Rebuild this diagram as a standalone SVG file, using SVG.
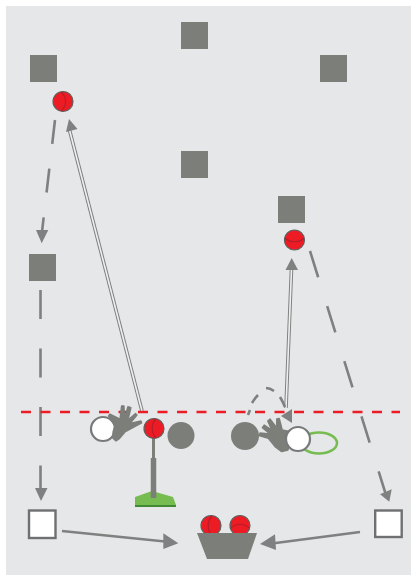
<svg xmlns="http://www.w3.org/2000/svg" width="411" height="575" viewBox="0 0 411 575">
<style>
.sq{fill:#7c7e7a}
.ball{fill:#ed1c24;stroke:#5e5f5d;stroke-width:1.2}
.seam{fill:none;stroke:#b51e2a;stroke-width:1.2}
.pl{fill:#7c7e7a}
.hand{fill:#7c7e7a;stroke:#7c7e7a;stroke-width:1.3;stroke-linejoin:round}
.wh{fill:#fff;stroke:#77797a;stroke-width:2.2}
.ln{fill:none;stroke:#7f8180;stroke-width:2.6}
.dblo{fill:none;stroke:#7f8180;stroke-width:3.6}
.dbli{fill:none;stroke:#eef0f0;stroke-width:1.6}
.ah{fill:#7f8180}
.box{fill:#fff;stroke:#6f7072;stroke-width:2.4}
</style>
<rect x="6" y="6" width="405" height="569" fill="#e6e7e9"/>
<g id="connectors">
<path d="M55 120L41.500 236" class="ln" stroke-dasharray="24 25"/>
<polygon class="ah" points="41.700,243.300 36,230 48.300,230"/>
<path d="M40.500 290V495" class="ln" stroke-dasharray="29 29.500"/>
<polygon class="ah" points="41,501 35,488 47.500,488"/>
<path d="M310 251L386 495" class="ln" stroke-dasharray="27.500 30.200"/>
<polygon class="ah" points="389.300,501.700 380,494.300 391.700,489.300"/>
<path d="M62 531L170 542" class="ln"/>
<polygon class="ah" points="178.300,543.300 163.300,549 163.300,533.300"/>
<path d="M360 532L268 544" class="ln"/>
<polygon class="ah" points="260,544 275,534.300 276,550"/>
<path d="M142 411L69.500 130" class="dblo"/>
<path d="M142 411L69.500 130" class="dbli"/>
<polygon class="ah" points="69,119 77.500,129 66,132"/>
<path d="M286 408L291.500 269" class="dblo"/>
<path d="M286 408L291.500 269" class="dbli"/>
<polygon class="ah" points="291.700,258 298,270 285.500,270"/>
<path d="M248 415L250 410M252 403Q255 398 258 395M266 388Q270 388 274 391M280 397Q283 402 285 407" class="ln"/>
<polygon class="ah" points="281,416 292,409 292,423"/>
<path d="M21 412H400" fill="none" stroke="#ed1c24" stroke-width="2.400" stroke-dasharray="10 9.500"/>
</g>
<g id="cone-1"><rect class="sq" x="30" y="55" width="27" height="27"/></g>
<g id="cone-2"><rect class="sq" x="181" y="22" width="27" height="27"/></g>
<g id="cone-3"><rect class="sq" x="320" y="55" width="27" height="27"/></g>
<g id="cone-4"><rect class="sq" x="181" y="151" width="27" height="27"/></g>
<g id="cone-5"><rect class="sq" x="278" y="196" width="27" height="27"/></g>
<g id="cone-6"><rect class="sq" x="29" y="254" width="27" height="27"/></g>
<g id="ball-1"><circle class="ball" cx="63" cy="101.500" r="10"/><path class="seam" d="M61 92C67 97 67 106 61 111"/></g>
<g id="ball-2"><circle class="ball" cx="294.500" cy="240" r="10"/><path class="seam" d="M285 238C290 243 299 243 304 238"/></g>
<g id="tee">
<polygon points="135,505 135,497 152,491 173,497 176,505" fill="#76bc50"/>
<rect x="135" y="505" width="41" height="2" fill="#3f8a33"/>
<path d="M153.500 458V498" stroke="#7c7e7a" stroke-width="5.500" fill="none"/>
<path d="M153.500 438V459" stroke="#7c7e7a" stroke-width="3" fill="none"/>
<circle class="ball" cx="154" cy="428.500" r="10"/><path class="seam" d="M156 419C151 424 151 433 156 438"/>
</g>
<g id="player-1">
<circle class="wh" cx="103" cy="429" r="12"/>
<path class="hand" d="M112.700 438L116 441L119 439L125 432L141.700 423L141 421L130 423.500L137 415L135.500 413.500L128 420L131 407.500L128 406.500L124.500 418L124 406L121.500 406L120 419L110 414L108.500 416L115 425L113 432Z"/>
</g>
<g id="fielder-1"><circle class="pl" cx="181" cy="435.500" r="13.500"/></g>
<g id="fielder-2"><circle class="pl" cx="245" cy="436" r="14"/></g>
<g id="player-2">
<ellipse cx="319" cy="443" rx="18" ry="10.500" fill="none" stroke="#76bc50" stroke-width="2.500"/>
<path class="hand" d="M281.700 451.700L288 450L292 432L282.300 430L279.300 418.300L276.700 419L276.700 427.700L270 419L267.700 421L271.700 430L264.300 425L262.300 427.700L270 434L260 433L259 435.700L268.300 438.300L275 446.700Z"/>
<circle class="wh" cx="298" cy="439" r="12"/>
</g>
<g id="start-left"><rect class="box" x="29" y="510.500" width="26.500" height="27.500"/></g>
<g id="start-right"><rect class="box" x="375.200" y="510.500" width="26.500" height="26.500"/></g>
<g id="bucket">
<circle class="ball" cx="211" cy="525.500" r="10"/><path class="seam" d="M212 516C207 521 207 531 212 536"/>
<circle class="ball" cx="240" cy="525.500" r="10"/><path class="seam" d="M231 528C236 523 244 523 249 528"/>
<polygon class="pl" points="197,533 257,533 248,559 207,559"/>
</g>
</svg>
